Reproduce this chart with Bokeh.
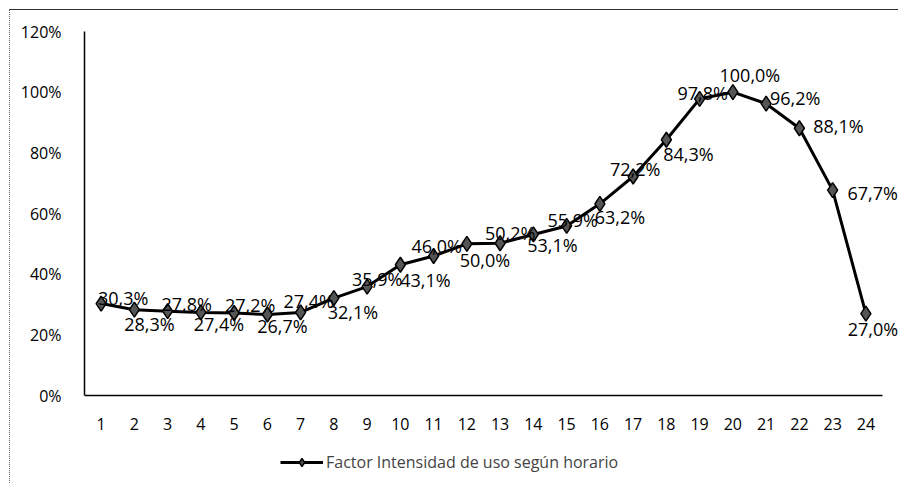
from bokeh.plotting import figure
from bokeh.models import (ColumnDataSource, LabelSet, Legend, LegendItem, FixedTicker,
                          NumeralTickFormatter, Range1d)
from bokeh.core.properties import value
from bokeh.embed import file_html
from bokeh.resources import INLINE

# Data
hours = list(range(1, 25))
factor_pct = [30.3, 28.3, 27.8, 27.4, 27.2, 26.7, 27.4, 32.1, 35.9, 43.1, 46.0, 50.0,
              50.2, 53.1, 55.9, 63.2, 72.2, 84.3, 97.8, 100.0, 96.2, 88.1, 67.7, 27.0]
y_ticks = [0, 0.2, 0.4, 0.6, 0.8, 1.0, 1.2]
series_name = "Factor Intensidad de uso según horario"

# category axis extent (half a slot either side)
x_axis_bounds = (0.5, 24.5)

# label placement (screen px): dx right, dy down
label_dx = [22, 15, 19, 18, 16, 15, 8, 19, 10, 25, 3, 18, 10, 19, 6, 20, 2, 22, 3, 17, 29, 39, 40, 7]
label_dy = [-6, 14, -7, 12, -8, 11, -11, 14, -8, 15, -10, 16, -10, 11, -6, 13, -7, 14, -6, -17, -6, -2, 3, 15]

src = ColumnDataSource(dict(
    x=hours,
    y=[v / 100 for v in factor_pct],
    lab=[f"{v:.1f}%".replace(".", ",") for v in factor_pct],
    dx=label_dx,
    dy=[-d for d in label_dy],
))
xsrc = ColumnDataSource(dict(x=hours, y=[0] * len(hours), lab=[str(h) for h in hours]))

FONT = "Open Sans"

# frame runs to the bottom/right of the canvas so legend and labels are not clipped
p = figure(width=889, height=474, output_backend="svg", toolbar_location=None,
           x_axis_location=None,
           x_range=Range1d(0.5, 25.011), y_range=Range1d(-0.2934, 1.2),
           min_border_left=74, min_border_right=0, min_border_top=21, min_border_bottom=0)
p.outline_line_color = None
p.xgrid.visible = False
p.ygrid.visible = False

p.yaxis.ticker = FixedTicker(ticks=y_ticks)
p.yaxis.formatter = NumeralTickFormatter(format="0%")
p.yaxis.bounds = (0, 1.2)
p.yaxis.axis_line_color = "black"
p.yaxis.axis_line_width = 1.5
p.yaxis.major_tick_line_color = None
p.yaxis.minor_tick_line_color = None
p.yaxis.major_label_text_font = FONT
p.yaxis.major_label_text_font_size = "16px"
p.yaxis.major_label_text_color = "black"
p.yaxis.major_label_standoff = 17

# x axis line and tick labels
p.segment(x0=[x_axis_bounds[0]], x1=[x_axis_bounds[1]], y0=[0], y1=[0],
          line_color="black", line_width=1.5)
p.add_layout(LabelSet(x="x", y="y", text="lab", source=xsrc, y_offset=-28,
                      text_align="center", text_baseline="middle",
                      text_font=value(FONT), text_font_size="16px", text_color="black"))

ln = p.line("x", "y", source=src, line_color="black", line_width=3)
sc = p.scatter("x", "y", source=src, marker="diamond", size=15,
               fill_color="#555555", line_color="black", line_width=1.5)

labels = LabelSet(x="x", y="y", text="lab", source=src, x_offset="dx", y_offset="dy",
                  text_align="center", text_baseline="middle",
                  text_font=value(FONT), text_font_size="18px", text_color="black")
p.add_layout(labels)

legend = Legend(items=[LegendItem(label=series_name, renderers=[ln, sc])],
                location=(196, 11), padding=0, margin=0, spacing=0,
                glyph_width=43, glyph_height=20, label_standoff=3,
                label_text_font=FONT, label_text_font_size="16px",
                border_line_alpha=0, background_fill_alpha=0)
p.add_layout(legend, "center")

p.styles = {"margin-left": "9px", "margin-top": "9px",
            "border-top": "1px solid #333", "border-left": "1px dotted #666"}

open("out.html", "w").write(file_html(p, INLINE))
